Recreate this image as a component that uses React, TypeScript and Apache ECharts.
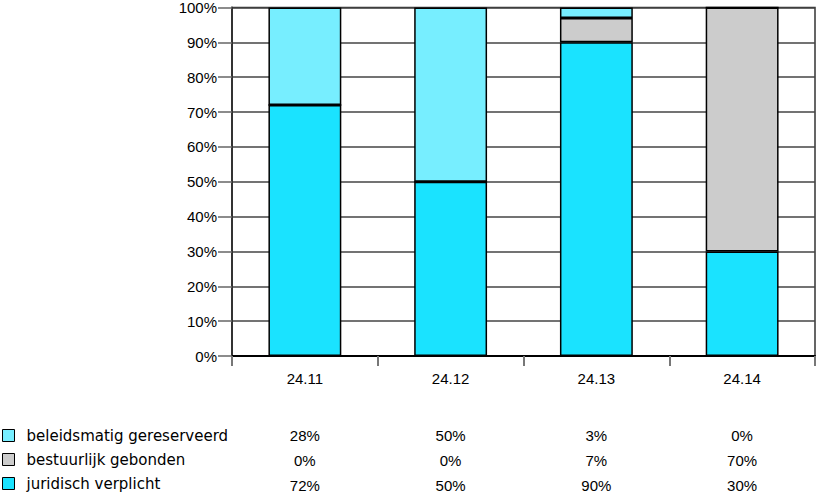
import React, { useEffect, useRef } from "react";
import * as echarts from "echarts";

const categories = ["24.11", "24.12", "24.13", "24.14"];
const seriesNames = ["juridisch verplicht", "bestuurlijk gebonden", "beleidsmatig gereserveerd"];
const juridisch = [72, 50, 90, 30];
const bestuurlijk = [0, 0, 7, 70];
const beleidsmatig = [28, 50, 3, 0];
const yTicks = [0, 10, 20, 30, 40, 50, 60, 70, 80, 90, 100];

const colors = ["#1ae3ff", "#cccccc", "#77eeff"];
const FONT = "Liberation Sans, Arial, sans-serif";
const LFONT = "DejaVu Sans, sans-serif";

export default function App() {
  const ref = useRef<HTMLDivElement>(null);
  useEffect(() => {
    if (!ref.current) return;
    const chart = echarts.init(ref.current, undefined, { renderer: "svg" });
    const values = [juridisch, bestuurlijk, beleidsmatig];
    const tableRows = [
      { data: beleidsmatig, offset: 72 },
      { data: bestuurlijk, offset: 97 },
      { data: juridisch, offset: 122 },
    ];
    chart.setOption({
      animation: false,
      textStyle: { fontFamily: FONT },
      grid: {
        left: 232, top: 7, right: 2, bottom: 138,
        show: true, borderColor: "#333", borderWidth: 1.5,
      },
      legend: {
        orient: "vertical", left: 2, top: 428, padding: 0, height: 120, width: 300,
        itemWidth: 12, itemHeight: 12, itemGap: 9,
        data: ["beleidsmatig gereserveerd", "bestuurlijk gebonden", "juridisch verplicht"],
        textStyle: { fontSize: 15, color: "#000", fontFamily: LFONT, padding: [0, 0, 0, 7] },
        icon: "rect",
        itemStyle: { borderColor: "#000", borderWidth: 1 },
      },
      xAxis: [
        {
          type: "category", data: categories, gridIndex: 0,
          axisLine: { lineStyle: { color: "#000", width: 2 } },
          axisTick: { show: true, length: 10, lineStyle: { color: "#777", width: 2 } },
          axisLabel: { fontSize: 15, color: "#000", margin: 15, fontFamily: FONT },
        },
        ...tableRows.map((r) => ({
          type: "category", data: categories, gridIndex: 0, position: "bottom", offset: r.offset,
          axisLine: { show: false }, axisTick: { show: false },
          axisLabel: {
            fontSize: 15, color: "#000", margin: 0, fontFamily: FONT,
            formatter: (_v: string, i: number) => r.data[i] + "%",
          },
        })),
      ],
      yAxis: {
        type: "value", min: 0, max: 100, interval: 10,
        axisLine: { show: true, lineStyle: { color: "#333", width: 2 } },
        axisTick: { show: true, length: 14, lineStyle: { color: "#666", width: 1.5 } },
        axisLabel: {
          fontSize: 15, color: "#000", margin: 15, fontFamily: FONT,
          formatter: (v: number) => (yTicks.includes(v) ? v + "%" : ""),
        },
        splitLine: { lineStyle: { color: "#444", width: 1.5 } },
      },
      series: seriesNames.map((name, i) => ({
        name, type: "bar", stack: "total", barWidth: "50%",
        data: values[i],
        itemStyle: { color: colors[i], borderColor: "#000", borderWidth: 1.5 },
      })),
    });
    return () => chart.dispose();
  }, []);
  return <div ref={ref} style={{ width: 817, height: 494, position: "absolute", left: 0, top: 0 }} />;
}
